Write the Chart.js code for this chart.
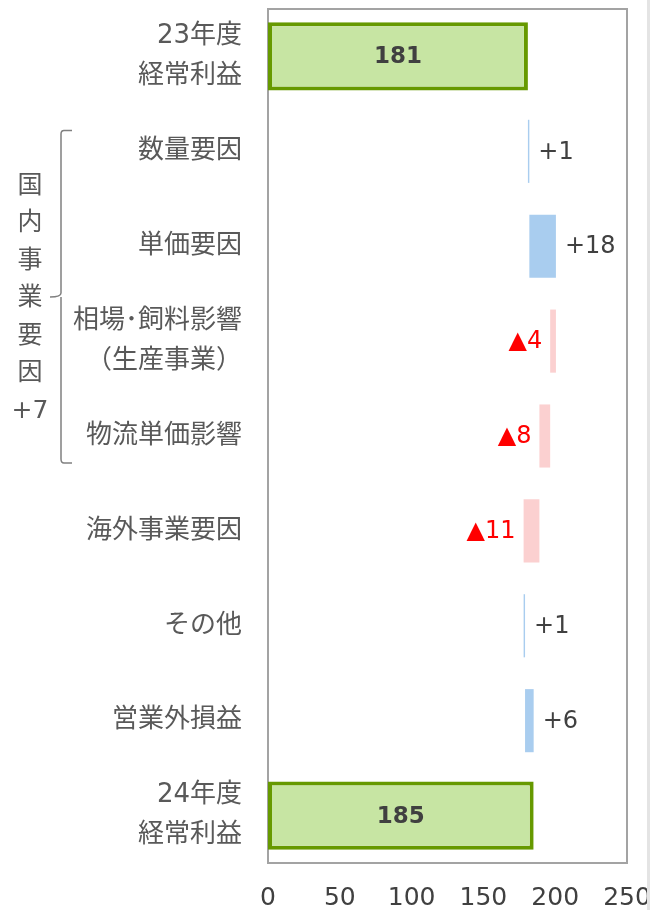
<!DOCTYPE html>
<html lang="ja">
<head>
<meta charset="utf-8">
<script src="https://cdn.jsdelivr.net/npm/chart.js@4"></script>
<style>
  body { margin: 0; background: #fff; }
  #wrap { width: 650px; height: 910px; position: relative; }
</style>
</head>
<body>
<div id="wrap"><canvas id="chart" width="650" height="910"></canvas></div>
<script>
// Categories (y axis)
const categories = [
    ['23年度', '経常利益'],
    '数量要因',
    '単価要因',
    ['相場･飼料影響', '（生産事業）'],
    '物流単価影響',
    '海外事業要因',
    'その他',
    '営業外損益',
    ['24年度', '経常利益']
];

// Totals (green bars)
const totalValues = [181, null, null, null, null, null, null, null, 185];
const totalLabels = ['181', '', '', '', '', '', '', '', '185'];

// Waterfall steps: start and end of each floating bar
const stepFrom = [null, 181, 182, 200.5, 196.5, 189, 178, 179, null];
const stepTo   = [null, 182, 200.5, 196.5, 189, 178, 179, 185, null];
const stepLabels = ['', '+1', '+18', '▲4', '▲8', '▲11', '+1', '+6', ''];

// x axis ticks
const xTicks = [0, 50, 100, 150, 200, 250];

// Bracket group label
const groupChars = ['国', '内', '事', '業', '要', '因', '+7'];

const FONT = "'DejaVu Sans', 'Noto Sans CJK JP', sans-serif";
const UP = '#a9cdef';
const DOWN = '#fbd0d0';

const totalData = totalValues.map(v => v === null ? null : [0, v]);
const stepData = stepFrom.map((f, i) => f === null ? null : [f, stepTo[i]]);
const stepColors = stepFrom.map((f, i) => f !== null && stepTo[i] < f ? DOWN : UP);

// keep label overflow from shrinking the plot area
function noPadding(s) {
    s.paddingTop = 0;
    s.paddingBottom = 0;
    s.paddingLeft = 0;
    s.paddingRight = 0;
}

// Draws the plot frame, value labels and the bracket text
const decorPlugin = {
    id: 'decor',
    beforeDatasetsDraw(chart) {
        const { ctx, chartArea: a } = chart;
        ctx.save();
        ctx.strokeStyle = '#a3a3a3';
        ctx.lineWidth = 2;
        ctx.strokeRect(a.left, a.top, a.right - a.left, a.bottom - a.top);
        // faint edge at the right side
        ctx.strokeStyle = '#e4e4e4';
        ctx.lineWidth = 3;
        ctx.beginPath();
        ctx.moveTo(648.5, 0);
        ctx.lineTo(648.5, 910);
        ctx.stroke();
        ctx.restore();
    },
    afterDatasetsDraw(chart) {
        const { ctx } = chart;
        ctx.save();
        ctx.textBaseline = 'middle';

        // totals, centered in the green bars
        const tMeta = chart.getDatasetMeta(0);
        ctx.font = 'bold 23px ' + FONT;
        ctx.fillStyle = '#404040';
        ctx.textAlign = 'center';
        tMeta.data.forEach((bar, i) => {
            if (!totalLabels[i]) return;
            ctx.fillText(totalLabels[i], (bar.x + bar.base) / 2, bar.y + 1);
        });

        // step labels beside the bars
        const sMeta = chart.getDatasetMeta(1);
        ctx.font = '24px ' + FONT;
        sMeta.data.forEach((bar, i) => {
            if (!stepLabels[i]) return;
            const lo = Math.min(bar.x, bar.base);
            const hi = Math.max(bar.x, bar.base);
            if (stepTo[i] < stepFrom[i]) {
                ctx.fillStyle = '#ff0000';
                ctx.textAlign = 'right';
                ctx.fillText(stepLabels[i], lo - 8, bar.y + 1);
            } else {
                ctx.fillStyle = '#404040';
                ctx.textAlign = 'left';
                ctx.fillText(stepLabels[i], hi + 9, bar.y + 1);
            }
        });

        // bracket for domestic factors
        ctx.strokeStyle = '#808080';
        ctx.lineWidth = 1.5;
        ctx.beginPath();
        ctx.moveTo(72, 130.5);
        ctx.lineTo(64, 130.5);
        ctx.quadraticCurveTo(61, 130.5, 61, 134);
        ctx.lineTo(61, 293);
        ctx.quadraticCurveTo(61, 297, 50, 297);
        ctx.moveTo(61, 297);
        ctx.lineTo(61, 459);
        ctx.quadraticCurveTo(61, 463, 64, 463);
        ctx.lineTo(72, 463);
        ctx.stroke();

        ctx.fillStyle = '#595959';
        ctx.textAlign = 'center';
        ctx.font = '25px ' + FONT;
        groupChars.forEach((ch, i) => {
            ctx.fillText(ch, 30, 186 + i * 37.5);
        });
        ctx.restore();
    }
};

new Chart(document.getElementById('chart'), {
    type: 'bar',
    data: {
        labels: categories,
        datasets: [
            {
                data: totalData,
                backgroundColor: '#c7e5a3',
                borderColor: '#669900',
                borderWidth: 4,
                borderSkipped: false,
                categoryPercentage: 1,
                barPercentage: 0.72,
                grouped: false
            },
            {
                data: stepData,
                backgroundColor: stepColors,
                borderWidth: 0,
                categoryPercentage: 1,
                barPercentage: 0.665,
                grouped: false
            }
        ]
    },
    options: {
        indexAxis: 'y',
        responsive: false,
        animation: false,
        layout: { padding: { top: 9, right: 23, left: 0, bottom: 0 } },
        plugins: {
            legend: { display: false },
            tooltip: { enabled: false }
        },
        scales: {
            x: {
                min: 0,
                max: 250,
                afterBuildTicks: s => { s.ticks = xTicks.map(v => ({ value: v })); },
                afterFit: s => { s.height = 47; noPadding(s); },
                grid: { display: false, drawTicks: false },
                border: { display: false },
                ticks: {
                    padding: 20,
                    color: '#404040',
                    maxRotation: 0,
                    font: { family: FONT, size: 25 }
                }
            },
            y: {
                afterFit: s => { s.width = 268; noPadding(s); },
                grid: { display: false, drawTicks: false },
                border: { display: false },
                ticks: {
                    padding: 26,
                    color: '#595959',
                    font: { family: FONT, size: 26, lineHeight: 1.55 }
                }
            }
        }
    },
    plugins: [decorPlugin]
});
</script>
</body>
</html>
